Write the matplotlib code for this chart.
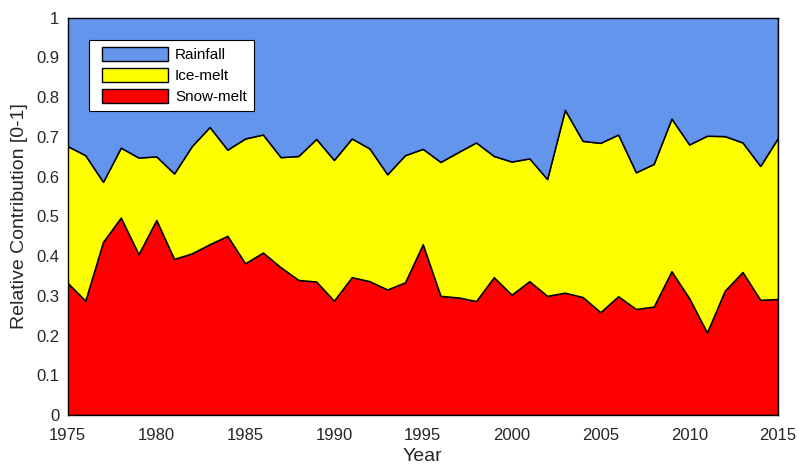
import matplotlib
matplotlib.use("Agg")
import matplotlib.pyplot as plt
from matplotlib.patches import Patch, Rectangle
from matplotlib.legend_handler import HandlerPatch
import numpy as np

years = list(range(1975, 2016))
snow_melt = [0.333, 0.288, 0.436, 0.497, 0.405, 0.491, 0.393, 0.407, 0.430, 0.451,
             0.382, 0.409, 0.372, 0.340, 0.336, 0.288, 0.347, 0.337, 0.316, 0.334,
             0.430, 0.300, 0.296, 0.287, 0.347, 0.303, 0.337, 0.300, 0.308, 0.297,
             0.259, 0.299, 0.267, 0.273, 0.362, 0.294, 0.208, 0.313, 0.360, 0.290,
             0.292]
ice_melt = [0.344, 0.366, 0.151, 0.176, 0.243, 0.160, 0.215, 0.270, 0.295, 0.217,
            0.314, 0.297, 0.277, 0.312, 0.359, 0.354, 0.349, 0.334, 0.290, 0.320,
            0.240, 0.337, 0.366, 0.399, 0.305, 0.335, 0.309, 0.294, 0.460, 0.393,
            0.426, 0.407, 0.344, 0.359, 0.384, 0.387, 0.495, 0.389, 0.326, 0.337,
            0.406]
rainfall = [0.323, 0.346, 0.413, 0.327, 0.352, 0.349, 0.392, 0.323, 0.275, 0.332,
            0.304, 0.294, 0.351, 0.348, 0.305, 0.358, 0.304, 0.329, 0.394, 0.346,
            0.330, 0.363, 0.338, 0.314, 0.348, 0.362, 0.354, 0.406, 0.232, 0.310,
            0.315, 0.294, 0.389, 0.368, 0.254, 0.319, 0.297, 0.298, 0.314, 0.373,
            0.302]
series_names = ["Snow-melt", "Ice-melt", "Rainfall"]
colors = ["#ff0000", "#ffff00", "#6495ed"]
xticks = [1975, 1980, 1985, 1990, 1995, 2000, 2005, 2010, 2015]
yticks = [0, 0.1, 0.2, 0.3, 0.4, 0.5, 0.6, 0.7, 0.8, 0.9, 1]
ytick_labels = ["0", "0.1", "0.2", "0.3", "0.4", "0.5", "0.6", "0.7", "0.8", "0.9", "1"]

plt.rcParams['font.family'] = ['Liberation Sans', 'DejaVu Sans']

fig = plt.figure(figsize=(7.98, 4.66), dpi=100)
ax = fig.add_axes([0.0846, 0.1094, 0.8904, 0.8526])

ax.stackplot(years, snow_melt, ice_melt, rainfall, colors=colors,
             edgecolor="black", linewidth=1.1)

ax.set_xlim(1975, 2015)
ax.set_ylim(0, 1)
ax.set_xticks(xticks)
ax.set_xticklabels([str(t) for t in xticks])
ax.set_yticks(yticks)
ax.set_yticklabels(ytick_labels)
ax.tick_params(length=0, labelsize=12, colors="#262626")
ax.tick_params(axis="y", pad=6)
ax.tick_params(axis="x", pad=9)
for s in ax.spines.values():
    s.set_linewidth(1.0)
    s.set_color("black")
    s.set_zorder(5)

ax.set_xlabel("Year", fontsize=14, color="#262626", labelpad=4)
ax.set_ylabel("Relative Contribution [0-1]", fontsize=14, color="#262626", labelpad=6)

OFFSET_PT = 4.3


def make_rect(legend, orig_handle, xdescent, ydescent, width, height, fontsize):
    return Rectangle((-xdescent + OFFSET_PT, -ydescent), width - OFFSET_PT, height)


handles = [Patch(facecolor=colors[2], edgecolor="black", label=series_names[2]),
           Patch(facecolor=colors[1], edgecolor="black", label=series_names[1]),
           Patch(facecolor=colors[0], edgecolor="black", label=series_names[0])]
leg = ax.legend(handles=handles, loc="upper left", bbox_to_anchor=(0.0303, 0.944),
                fontsize=11, frameon=True, fancybox=False, handlelength=4.71,
                handleheight=1.03, labelspacing=0.38, borderpad=0.45, handletextpad=0.46,
                borderaxespad=0,
                handler_map={Patch: HandlerPatch(patch_func=make_rect)})
leg.get_frame().set_edgecolor("black")
leg.get_frame().set_linewidth(0.8)
leg.get_frame().set_alpha(1)

fig.savefig("out.png", dpi=100)
